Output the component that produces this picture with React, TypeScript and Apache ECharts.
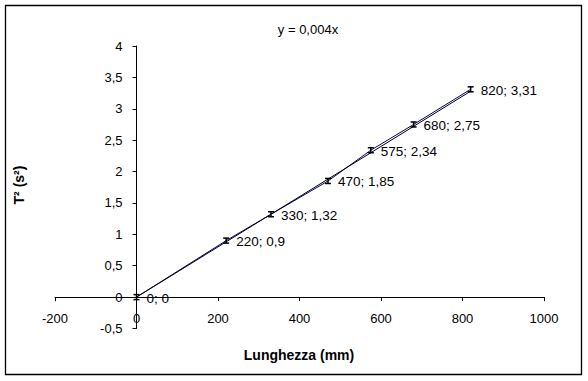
import React, { useEffect, useRef } from "react";
import * as echarts from "echarts";

const lengths = [0, 220, 330, 470, 575, 680, 820];
const periodsSquared = [0, 0.9, 1.32, 1.85, 2.34, 2.75, 3.31];
const errorHalf = [0.04, 0.04, 0.04, 0.04, 0.04, 0.04, 0.04];
const slope = 0.004;
const trendX = [0, 820];
const titleText = "y = 0,004x";
const xName = "Lunghezza (mm)";
const yName = "T\u00b2 (s\u00b2)";

const FONT = "'Liberation Sans', Arial, sans-serif";
const comma = (v: number) => String(v).replace(".", ",");

const X_MIN = -200, X_MAX = 1000, Y_MIN = -0.5, Y_MAX = 4;
const G_LEFT = 55, G_RIGHT = 44, G_TOP = 46, G_BOTTOM = 52.5;
const W = 588, H = 381;

export default function App() {
  const ref = useRef<HTMLDivElement>(null);
  useEffect(() => {
    if (!ref.current) return;
    const chart = echarts.init(ref.current, undefined, { renderer: "svg" });
    const points = lengths.map((x, i) => [x, periodsSquared[i], errorHalf[i]]);
    const trend = trendX.map((x) => [x, +(x * slope).toFixed(4)]);
    const gw = W - G_LEFT - G_RIGHT;
    const gh = H - G_TOP - G_BOTTOM;
    const xOffset = -(gh * (0 - Y_MIN)) / (Y_MAX - Y_MIN);
    const yOffset = -(gw * (0 - X_MIN)) / (X_MAX - X_MIN);
    chart.setOption({
      animation: false,
      backgroundColor: "#ffffff",
      textStyle: { fontFamily: FONT },
      grid: { left: G_LEFT, right: G_RIGHT, top: G_TOP, bottom: G_BOTTOM },
      xAxis: {
        type: "value",
        min: X_MIN,
        max: X_MAX,
        interval: 200,
        offset: xOffset,
        axisLine: { show: true, onZero: false, lineStyle: { color: "#000", width: 1 } },
        axisTick: { show: true, length: 4, lineStyle: { color: "#000" } },
        axisLabel: { color: "#000", fontSize: 13, margin: 15, fontFamily: FONT, formatter: (v: number) => String(v), showMinLabel: true, showMaxLabel: true },
        splitLine: { show: false },
      },
      yAxis: {
        type: "value",
        min: Y_MIN,
        max: Y_MAX,
        interval: 0.5,
        offset: yOffset,
        axisLine: { show: true, onZero: false, lineStyle: { color: "#000", width: 1 } },
        axisTick: { show: true, length: 4, lineStyle: { color: "#000" } },
        axisLabel: { color: "#000", fontSize: 13, margin: 14, fontFamily: FONT, formatter: (v: number) => comma(v), showMinLabel: true, showMaxLabel: true },
        splitLine: { show: false },
      },
      series: [
        {
          type: "line",
          data: points.map((p) => [p[0], p[1]]),
          symbol: "none",
          lineStyle: { color: "#000080", width: 1 },
          z: 2,
        },
        {
          type: "line",
          data: trend,
          symbol: "none",
          lineStyle: { color: "#000000", width: 1 },
          z: 3,
        },
        {
          type: "custom",
          data: points,
          z: 4,
          renderItem: (params: any, api: any) => {
            const x = api.value(0);
            const y = api.value(1);
            const e = api.value(2);
            const c = api.coord([x, y]);
            const top = api.coord([x, y + e]);
            const bot = api.coord([x, y - e]);
            const w = 3;
            const ls = { stroke: "#000", lineWidth: 1.5 };
            return {
              type: "group",
              children: [
                { type: "line", shape: { x1: c[0], y1: top[1], x2: c[0], y2: bot[1] }, style: ls },
                { type: "line", shape: { x1: c[0] - w, y1: top[1], x2: c[0] + w, y2: top[1] }, style: ls },
                { type: "line", shape: { x1: c[0] - w, y1: bot[1], x2: c[0] + w, y2: bot[1] }, style: ls },
                {
                  type: "text",
                  x: c[0] + 10,
                  y: c[1] + 1,
                  style: {
                    text: `${x}; ${comma(y)}`,
                    fill: "#000",
                    font: `13.5px ${FONT}`,
                    textAlign: "left",
                    textVerticalAlign: "middle",
                  },
                },
              ],
            };
          },
        },
      ],
      graphic: [
        {
          type: "rect",
          shape: { x: 5.5, y: 5.5, width: 576, height: 369 },
          style: { fill: "none", stroke: "#000", lineWidth: 1.3 },
          silent: true,
        },
        {
          type: "text",
          x: 308,
          y: 29,
          style: { text: titleText, fill: "#000", font: `13px ${FONT}`, textAlign: "center", textVerticalAlign: "middle" },
        },
        {
          type: "text",
          x: 299,
          y: 355,
          style: { text: xName, fill: "#000", font: `bold 14px ${FONT}`, textAlign: "center", textVerticalAlign: "middle" },
        },
        {
          type: "text",
          x: 19,
          y: 185,
          rotation: Math.PI / 2,
          style: { text: yName, fill: "#000", font: `bold 14px ${FONT}`, textAlign: "center", textVerticalAlign: "middle" },
        },
      ],
    });
    return () => chart.dispose();
  }, []);
  return <div ref={ref} style={{ position: "fixed", left: 0, top: 0, width: W, height: H }} />;
}
